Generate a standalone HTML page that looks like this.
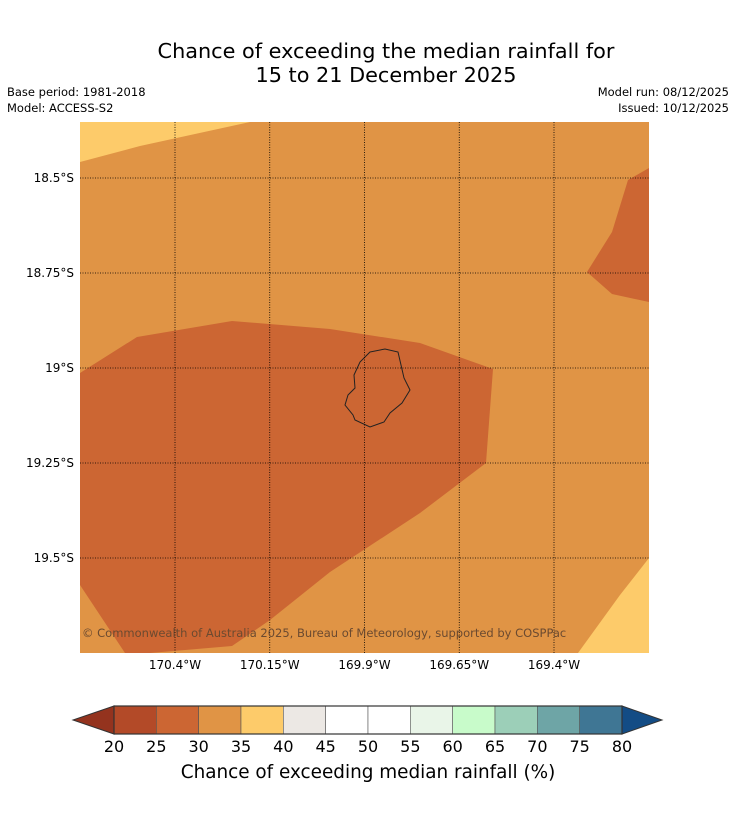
<!DOCTYPE html>
<html><head><meta charset="utf-8"><style>
body{margin:0;background:#fff;font-family:"DejaVu Sans","Liberation Sans",sans-serif;}
svg text{font-family:"DejaVu Sans","Liberation Sans",sans-serif;}
</style></head><body>
<svg width="736" height="816" viewBox="0 0 736 816" xmlns="http://www.w3.org/2000/svg">
<text x="386" y="58" font-size="20.8" text-anchor="middle">Chance of exceeding the median rainfall for</text>
<text x="386" y="82" font-size="20.8" text-anchor="middle">15 to 21 December 2025</text>
<text x="7" y="96" font-size="11.5">Base period: 1981-2018</text>
<text x="7" y="112" font-size="11.5">Model: ACCESS-S2</text>
<text x="729" y="96" font-size="11.5" text-anchor="end">Model run: 08/12/2025</text>
<text x="729" y="112" font-size="11.5" text-anchor="end">Issued: 10/12/2025</text>
<defs><clipPath id="mc"><rect x="80" y="122" width="569" height="531"/></clipPath></defs>
<g clip-path="url(#mc)">
<rect x="80" y="122" width="569" height="531" fill="#e09445"/>
<polygon points="80,122 250,122 140,146 80,162" fill="#fdcb6a"/>
<polygon points="649,558 620,595 578,653 649,653" fill="#fdcb6a"/>
<polygon points="649,168 628,180 612,232 587,272 612,294 649,302" fill="#cc6633"/>
<polygon points="80,373 137,337 232,321 330,329 420,343 493,369 486,463 420,513 330,572 270,620 232,646 150,653 125,653 80,585" fill="#cc6633"/>
<path d="M370,352 L385,349 L398,352 L401,365 L404,378 L410,390 L402,403 L390,413 L384,422 L370,427 L355,420 L353,415 L345,405 L348,395 L355,388 L354,375 L360,362 Z" fill="none" stroke="#222" stroke-width="1"/>
<g id="grid"></g>
<text x="82" y="637" font-size="11.5" fill="#6b4a30">© Commonwealth of Australia 2025, Bureau of Meteorology, supported by COSPPac</text>
</g>
<g id="labels"></g>
<g id="cbar"></g>
<text x="368" y="778" font-size="18.4" text-anchor="middle">Chance of exceeding median rainfall (%)</text>
</svg>
<script>
const lonTicks=["170.4°W","170.15°W","169.9°W","169.65°W","169.4°W"];
const lonVals=[-170.4,-170.15,-169.9,-169.65,-169.4];
const latTicks=["18.5°S","18.75°S","19°S","19.25°S","19.5°S"];
const latVals=[-18.5,-18.75,-19,-19.25,-19.5];
const levels=[20,25,30,35,40,45,50,55,60,65,70,75,80];
const binColors=["#b34a28","#cc6633","#e09445","#fdcb6a","#ece8e4","#ffffff","#ffffff","#e9f5e8","#c8fbca","#9ccfb8","#6ea5a6","#3f7694"];
const ns="http://www.w3.org/2000/svg";
const xs=lon=>175+(lon+170.4)/0.25*94.75;
const ys=lat=>178+(-18.5-lat)/0.25*95;
const grid=document.getElementById('grid'),lab=document.getElementById('labels');
function mk(t,a,p){const e=document.createElementNS(ns,t);for(const k in a)e.setAttribute(k,a[k]);p.appendChild(e);return e;}
lonVals.forEach((v,i)=>{const x=xs(v);
const l=mk('line',{x1:x,x2:x,y1:122,y2:653,stroke:'#000','stroke-width':0.8,'stroke-dasharray':'1,1.5'},grid);


const t=mk('text',{x:x,y:669,'font-size':12,'text-anchor':'middle'},lab);t.textContent=lonTicks[i];

});
latVals.forEach((v,i)=>{const y=ys(v);
const l=mk('line',{x1:80,x2:649,y1:y,y2:y,stroke:'#000','stroke-width':0.8,'stroke-dasharray':'1,1.5'},grid);


const t=mk('text',{x:74,y:y+4,'font-size':12,'text-anchor':'end'},lab);t.textContent=latTicks[i];

});
const cb=document.getElementById('cbar');
const cx=v=>114+(v-20)/60*508;
const t1=mk('polygon',{points:'114,706 73,720 114,734',fill:'#94331e',stroke:'#333','stroke-width':1},cb);


const t2=mk('polygon',{points:'622,706 662,720 622,734',fill:'#134c85',stroke:'#333','stroke-width':1},cb);


binColors.forEach((c,i)=>{const x0=cx(levels[i]),x1=cx(levels[i+1]);
const r=mk('rect',{x:x0,y:706,width:x1-x0,height:28,fill:c,stroke:'#555','stroke-width':0.6},cb);

});
mk('rect',{x:114,y:706,width:508,height:28,fill:'none',stroke:'#333','stroke-width':1.2},cb);
levels.forEach(v=>{const t=mk('text',{x:cx(v),y:752,'font-size':16,'text-anchor':'middle'},cb);t.textContent=v;

});
</script>
</body></html>
